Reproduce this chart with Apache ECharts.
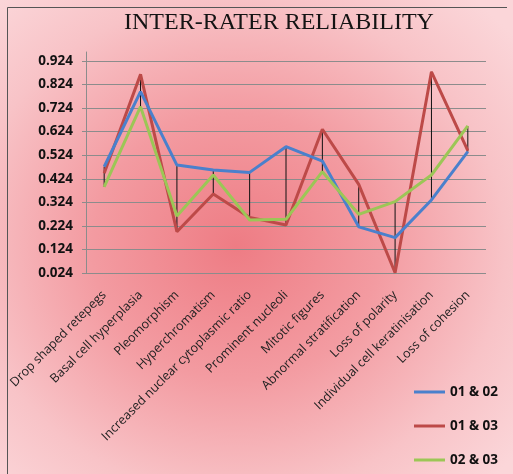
<!DOCTYPE html>
<html>
<head>
<meta charset="utf-8">
<script src="https://cdn.jsdelivr.net/npm/echarts@6/dist/echarts.min.js"></script>
<style>
  html, body { margin: 0; padding: 0; background: #fff; }
  #chart {
    width: 513px; height: 474px;
    background: radial-gradient(ellipse 70% 70% at 46% 52%, #ee7c84 0%, #f39ba1 40%, #f8c3c7 75%, #fbd6d9 100%);
  }
</style>
</head>
<body>
<div id="chart"></div>
<script type="text/javascript">
  var categories = ['Drop shaped retepegs', 'Basal cell hyperplasia', 'Pleomorphism', 'Hyperchromatism',
    'Increased nuclear cytoplasmic ratio', 'Prominent nucleoli', 'Mitotic figures', 'Abnormal stratification',
    'Loss of polarity', 'Individual cell keratinisation', 'Loss of cohesion'];
  var r12 = [0.475, 0.794, 0.482, 0.461, 0.451, 0.560, 0.499, 0.220, 0.174, 0.334, 0.539];
  var r13 = [0.447, 0.867, 0.199, 0.359, 0.260, 0.228, 0.634, 0.400, 0.025, 0.878, 0.543];
  var r23 = [0.390, 0.730, 0.266, 0.440, 0.249, 0.252, 0.454, 0.273, 0.327, 0.440, 0.648];

  // high-low lines, one per category
  var hiLo = [];
  for (var i = 0; i < categories.length; i++) {
    var vals = [r12[i], r13[i], r23[i]];
    hiLo.push([i, Math.max.apply(null, vals), Math.min.apply(null, vals)]);
  }

  var chart = echarts.init(document.getElementById('chart'));
  var option = {
    backgroundColor: 'transparent',
    title: {
      text: 'INTER-RATER RELIABILITY',
      left: 119, top: 6,
      textStyle: { fontFamily: 'Liberation Serif', fontSize: 24, fontWeight: 'normal', color: '#141414' }
    },
    graphic: [
      { type: 'line', shape: { x1: 7.5, y1: 7.5, x2: 507, y2: 7.5 }, style: { stroke: '#555', lineWidth: 1 } },
      { type: 'line', shape: { x1: 7.5, y1: 7.5, x2: 7.5, y2: 474 }, style: { stroke: '#555', lineWidth: 1 } }
    ],
    legend: {
      orient: 'vertical',
      left: 409, top: 379,
      icon: 'rect',
      itemWidth: 31, itemHeight: 3, itemGap: 18,
      data: ['01 & 02', '01 & 03', '02 & 03'],
      textStyle: { fontFamily: 'Open Sans', fontWeight: 'bold', fontSize: 13.5, color: '#111', lineHeight: 16 }
    },
    grid: { left: 86, right: 27, top: 52, bottom: 201 },
    xAxis: {
      type: 'category',
      data: categories,
      axisLine: { show: false },
      axisTick: { show: false },
      axisLabel: { rotate: 45, margin: 20, interval: 0, fontFamily: 'Open Sans', fontSize: 12.5, color: '#222' }
    },
    yAxis: {
      type: 'value',
      min: 0.024, max: 0.962, interval: 0.1,
      axisLine: { show: true, lineStyle: { color: '#8c8c8c' } },
      axisTick: { show: true, length: 4, lineStyle: { color: '#8c8c8c' } },
      splitLine: { show: true, showMaxLine: false, lineStyle: { color: '#8c8c8c', width: 1 } },
      axisLabel: {
        showMaxLabel: false,
        margin: 13,
        fontFamily: 'Open Sans', fontWeight: 'bold', fontSize: 13.5, color: '#111',
        formatter: function (v) { return v.toFixed(3); }
      }
    },
    series: [
      {
        type: 'custom',
        z: 1,
        silent: true,
        data: hiLo,
        encode: { x: 0, y: [1, 2] },
        renderItem: function (params, api) {
          var p1 = api.coord([api.value(0), api.value(1)]);
          var p2 = api.coord([api.value(0), api.value(2)]);
          return { type: 'line', shape: { x1: p1[0], y1: p1[1], x2: p2[0], y2: p2[1] }, style: { stroke: '#111', lineWidth: 1 } };
        }
      },
      { name: '01 & 02', type: 'line', data: r12, symbol: 'none', z: 3, color: '#4a80cc', lineStyle: { width: 3 } },
      { name: '01 & 03', type: 'line', data: r13, symbol: 'none', z: 2, color: '#bd4a48', lineStyle: { width: 3 } },
      { name: '02 & 03', type: 'line', data: r23, symbol: 'none', z: 4, color: '#9cc656', lineStyle: { width: 3 } }
    ]
  };
  chart.setOption(option);
</script>
</body>
</html>
